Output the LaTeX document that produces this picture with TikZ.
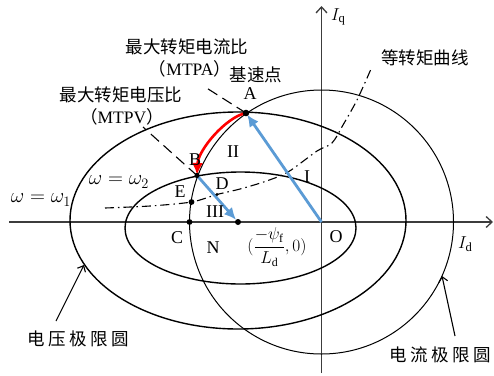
\documentclass[tikz,border=0pt]{standalone}
\usepackage{amsmath}
\usepackage{fontspec}
\setmainfont{Liberation Serif}
\newfontfamily\cjk{Noto Sans CJK SC}
\usetikzlibrary{arrows.meta}
\definecolor{myblue}{RGB}{91,155,213}
\definecolor{axisgray}{RGB}{60,60,60}
\begin{document}
\begin{tikzpicture}[x=1pt,y=-1pt,
  ellcurve/.style={line width=1.4pt},
  circcurve/.style={line width=1.0pt},
  axisline/.style={line width=1.5pt, draw=axisgray, -{Straight Barb[length=6pt,width=11pt,line width=1.3pt]}},
  torque/.style={line width=1.1pt, dash pattern=on 9pt off 4pt on 1.5pt off 4pt},
  mtpline/.style={line width=1.1pt, dash pattern=on 11pt off 6pt},
  bluearrow/.style={line width=2.8pt, draw=myblue, -{Latex[length=12pt,width=11pt]}},
  redarrow/.style={line width=2.6pt, draw=red, -{Latex[length=12pt,width=11pt]}},
  labarrow/.style={line width=1.1pt, -{Straight Barb[length=5pt,width=9pt,line width=1.1pt]}},
  cn/.style={font=\cjk\fontsize{17.5}{20}\selectfont, inner sep=0pt},
  lt/.style={font=\fontsize{18}{20}\selectfont, inner sep=0pt},
  mt/.style={font=\fontsize{20}{22}\selectfont, inner sep=0pt},
  dot/.style={fill=black}
]
\useasboundingbox (0,0) rectangle (494,375);

% key points
\coordinate (O) at (321.5,222);
\coordinate (A) at (246,113);
\coordinate (B) at (197,175.5);
\coordinate (C) at (189.5,222);
\coordinate (E) at (191.5,202);
\coordinate (D) at (217,194.5);
\coordinate (N) at (238,222);
\coordinate (Vo) at (238,220.5);
\coordinate (Vi) at (240.5,228);

% axes
\coordinate (xs) at (9,222);
\coordinate (xe) at (493,222);
\coordinate (ys) at (321.5,373);
\coordinate (ye) at (321.5,6);
\draw[axisline] (xs) -- (xe);
\draw[axisline] (ys) -- (ye);

% voltage limit ellipses
\draw[ellcurve] (Vo) ellipse [x radius=168pt, y radius=108.5pt];
\draw[ellcurve] (Vi) ellipse [x radius=115.5pt, y radius=56pt];

% current limit circle
\draw[circcurve] (O) circle [radius=132pt];

% torque curve
\draw[torque] plot[smooth] coordinates {(105,208) (150,206) (191.5,202) (217,194.5) (240,189) (265,181.5) (288,172) (317,151) (332,143) (343,125) (357,100) (371,69)};

% MTPA / MTPV dashed
\coordinate (mtpaEnd) at (205,87);
\coordinate (mtpvEnd) at (143,127);
\draw[mtpline] (A) -- (mtpaEnd);
\draw[mtpline] (B) -- (mtpvEnd);

% arrows
\draw[bluearrow, shorten >=2pt] (O) -- (A);
\draw[bluearrow, shorten >=3pt] (B) -- (N);
\draw[redarrow, shorten >=0.5pt] (A) .. controls (226,117) and (198,150) .. (B);

% dots
\fill[dot] (A) circle [radius=3.3pt];
\fill[dot] (B) circle [radius=2.6pt];
\fill[dot] (E) circle [radius=2.9pt];
\fill[dot] (C) circle [radius=2.9pt];
\fill[dot] (N) circle [radius=3pt];
\fill[dot] (D) circle [radius=1.6pt];

% label arrows
\coordinate (vt) at (56,321);
\coordinate (vh) at (84,265);
\coordinate (ct) at (455,336);
\coordinate (ch) at (442,276);
\draw[labarrow] (vt) -- (vh);
\draw[labarrow] (ct) -- (ch);

% Chinese labels
\node[cn] (t1) at (187,47) {最大转矩电流比};
\node[cn] (t2) at (190,69) {（\fontspec{Liberation Serif}MTPA\cjk）};
\node[cn] (t3) at (256,75) {基速点};
\node[cn] (t4) at (121,95) {最大转矩电压比};
\node[cn] (t5) at (122,117) {（\fontspec{Liberation Serif}MTPV\cjk）};
\node[cn] (t6) at (425,58) {等转矩曲线};
\node[cn] (t7) at (78,339) {电\hspace{3.5pt}压\hspace{3.5pt}极\hspace{3.5pt}限\hspace{3.5pt}圆};
\node[cn] (t8) at (440,355) {电\hspace{3.5pt}流\hspace{3.5pt}极\hspace{3.5pt}限\hspace{3.5pt}圆};

% point labels
\node[lt] (lA) at (250,94) {A};
\node[lt] (lB) at (195,160) {B};
\node[lt] (lII) at (233,152) {II};
\node[lt] (lI) at (307,177) {I};
\node[lt] (lD) at (222,184) {D};
\node[lt] (lE) at (180,192) {E};
\node[lt] (lIII) at (215,212) {III};
\node[lt] (lC) at (177,238) {C};
\node[lt] (lN) at (213,248) {N};
\node[lt] (lO) at (336,237) {O};
\node[lt, font=\fontsize{17}{20}\selectfont] (lNc) at (277,247) {$(\dfrac{-\psi_{\mathrm{f}}}{L_{\mathrm{d}}},0)$};

% axis labels
\node[lt, anchor=west] (lIq) at (331,17) {$I_{\mathrm{q}}$};
\node[lt, anchor=west] (lId) at (458,244) {$I_{\mathrm{d}}$};

% speed labels
\node[mt] (w1) at (41,200) {$\omega=\omega_1$};
\node[mt] (w2) at (119,182) {$\omega=\omega_2$};
\end{tikzpicture}
\end{document}
